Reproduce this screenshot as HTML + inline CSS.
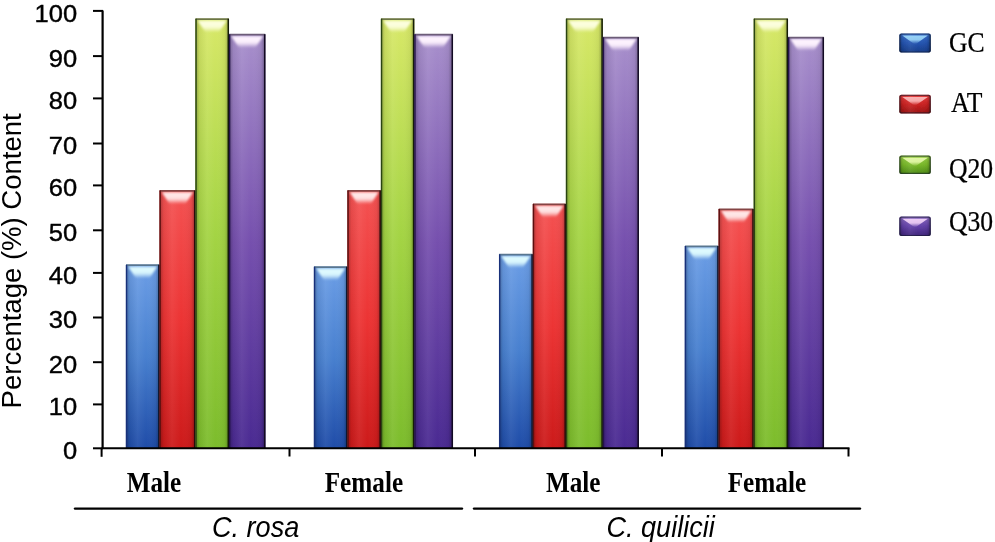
<!DOCTYPE html>
<html><head><meta charset="utf-8"><style>
html,body{margin:0;padding:0;background:#fff;}
body{width:995px;height:542px;overflow:hidden;}
svg{display:block;will-change:transform;filter:blur(0.4px);}
.yl{font-family:"Liberation Sans",sans-serif;font-size:24.3px;fill:#000;stroke:#000;stroke-width:0.4px;}
.yt{font-family:"Liberation Sans",sans-serif;font-size:27.5px;fill:#000;}
.xl{font-family:"Liberation Serif",serif;font-weight:bold;font-size:29.4px;fill:#000;}
.sp{font-family:"Liberation Sans",sans-serif;font-style:italic;font-size:28.8px;fill:#000;}
.lg{font-family:"Liberation Serif",serif;font-size:28.5px;fill:#000;stroke:#000;stroke-width:0.25px;}
</style></head><body>
<svg width="995" height="542" viewBox="0 0 995 542">
<defs>
<linearGradient id="vb" x1="0" y1="0" x2="0" y2="1"><stop offset="0" stop-color="#6c9ee6"/><stop offset="0.5" stop-color="#4880cf"/><stop offset="1" stop-color="#1f4ca8"/></linearGradient>
<linearGradient id="vr" x1="0" y1="0" x2="0" y2="1"><stop offset="0" stop-color="#f45252"/><stop offset="0.5" stop-color="#ec3434"/><stop offset="1" stop-color="#cc1a1a"/></linearGradient>
<linearGradient id="vg" x1="0" y1="0" x2="0" y2="1"><stop offset="0" stop-color="#d8e868"/><stop offset="0.5" stop-color="#a4d444"/><stop offset="1" stop-color="#7cbc2c"/></linearGradient>
<linearGradient id="vp" x1="0" y1="0" x2="0" y2="1"><stop offset="0" stop-color="#a890cc"/><stop offset="0.5" stop-color="#7650ae"/><stop offset="1" stop-color="#4a2a92"/></linearGradient>
<linearGradient id="hs" x1="0" y1="0" x2="1" y2="0">
<stop offset="0" stop-color="#000" stop-opacity="0.30"/>
<stop offset="0.12" stop-color="#000" stop-opacity="0.06"/>
<stop offset="0.35" stop-color="#fff" stop-opacity="0.06"/>
<stop offset="0.6" stop-color="#fff" stop-opacity="0.0"/>
<stop offset="0.88" stop-color="#000" stop-opacity="0.05"/>
<stop offset="1" stop-color="#000" stop-opacity="0.32"/>
</linearGradient>
<linearGradient id="bevb" x1="0" y1="0" x2="0" y2="1"><stop offset="0" stop-color="#e0fcff" stop-opacity="0.85"/><stop offset="0.2" stop-color="#e0fcff" stop-opacity="1"/><stop offset="0.55" stop-color="#e0fcff" stop-opacity="0.92"/><stop offset="0.8" stop-color="#e0fcff" stop-opacity="0.45"/><stop offset="1" stop-color="#e0fcff" stop-opacity="0"/></linearGradient>
<linearGradient id="bevr" x1="0" y1="0" x2="0" y2="1"><stop offset="0" stop-color="#ffeaea" stop-opacity="0.85"/><stop offset="0.2" stop-color="#ffeaea" stop-opacity="1"/><stop offset="0.55" stop-color="#ffeaea" stop-opacity="0.92"/><stop offset="0.8" stop-color="#ffeaea" stop-opacity="0.45"/><stop offset="1" stop-color="#ffeaea" stop-opacity="0"/></linearGradient>
<linearGradient id="bevg" x1="0" y1="0" x2="0" y2="1"><stop offset="0" stop-color="#fdffe0" stop-opacity="0.85"/><stop offset="0.2" stop-color="#fdffe0" stop-opacity="1"/><stop offset="0.55" stop-color="#fdffe0" stop-opacity="0.92"/><stop offset="0.8" stop-color="#fdffe0" stop-opacity="0.45"/><stop offset="1" stop-color="#fdffe0" stop-opacity="0"/></linearGradient>
<linearGradient id="bevp" x1="0" y1="0" x2="0" y2="1"><stop offset="0" stop-color="#fff4ff" stop-opacity="0.85"/><stop offset="0.2" stop-color="#fff4ff" stop-opacity="1"/><stop offset="0.55" stop-color="#fff4ff" stop-opacity="0.92"/><stop offset="0.8" stop-color="#fff4ff" stop-opacity="0.45"/><stop offset="1" stop-color="#fff4ff" stop-opacity="0"/></linearGradient>
<linearGradient id="bev" x1="0" y1="0" x2="0" y2="1">
<stop offset="0" stop-color="#fff" stop-opacity="0.7"/>
<stop offset="0.25" stop-color="#fff" stop-opacity="0.97"/>
<stop offset="0.6" stop-color="#fff" stop-opacity="0.85"/>
<stop offset="0.85" stop-color="#fff" stop-opacity="0.35"/>
<stop offset="1" stop-color="#fff" stop-opacity="0"/>
</linearGradient>
<filter id="bl" x="-20%" y="-50%" width="140%" height="200%"><feGaussianBlur stdDeviation="1.0"/></filter>
<filter id="bl2" x="-20%" y="-20%" width="140%" height="140%"><feGaussianBlur stdDeviation="0.5"/></filter>
<linearGradient id="lb" x1="0" y1="0" x2="0" y2="1"><stop offset="0" stop-color="#3a70cc"/><stop offset="0.5" stop-color="#2454b0"/><stop offset="1" stop-color="#163c88"/></linearGradient>
<linearGradient id="lhb" x1="0" y1="0" x2="0" y2="1"><stop offset="0" stop-color="#a8e4ff" stop-opacity="0.85"/><stop offset="0.5" stop-color="#a8e4ff" stop-opacity="0.8"/><stop offset="1" stop-color="#a8e4ff" stop-opacity="0"/></linearGradient>
<linearGradient id="lr" x1="0" y1="0" x2="0" y2="1"><stop offset="0" stop-color="#e84040"/><stop offset="0.5" stop-color="#cc2222"/><stop offset="1" stop-color="#9a1414"/></linearGradient>
<linearGradient id="lhr" x1="0" y1="0" x2="0" y2="1"><stop offset="0" stop-color="#ffc8c8" stop-opacity="0.85"/><stop offset="0.5" stop-color="#ffc8c8" stop-opacity="0.8"/><stop offset="1" stop-color="#ffc8c8" stop-opacity="0"/></linearGradient>
<linearGradient id="lg" x1="0" y1="0" x2="0" y2="1"><stop offset="0" stop-color="#9ad048"/><stop offset="0.5" stop-color="#78b828"/><stop offset="1" stop-color="#4e8a18"/></linearGradient>
<linearGradient id="lhg" x1="0" y1="0" x2="0" y2="1"><stop offset="0" stop-color="#f0ffb8" stop-opacity="0.85"/><stop offset="0.5" stop-color="#f0ffb8" stop-opacity="0.8"/><stop offset="1" stop-color="#f0ffb8" stop-opacity="0"/></linearGradient>
<linearGradient id="lp" x1="0" y1="0" x2="0" y2="1"><stop offset="0" stop-color="#8a6ac0"/><stop offset="0.5" stop-color="#6240a8"/><stop offset="1" stop-color="#3e2478"/></linearGradient>
<linearGradient id="lhp" x1="0" y1="0" x2="0" y2="1"><stop offset="0" stop-color="#ffe0ff" stop-opacity="0.85"/><stop offset="0.5" stop-color="#ffe0ff" stop-opacity="0.8"/><stop offset="1" stop-color="#ffe0ff" stop-opacity="0"/></linearGradient>
<filter id="bl3" x="-20%" y="-30%" width="140%" height="160%"><feGaussianBlur stdDeviation="0.75"/></filter>
</defs>
<rect width="995" height="542" fill="#fff"/>
<rect x="125.90" y="264.80" width="33.60" height="183.50" fill="url(#vb)"/>
<rect x="125.90" y="264.80" width="33.60" height="183.50" fill="url(#hs)"/>
<path d="M128.10 266.40 L157.30 266.40 L149.50 278.30 L135.90 278.30 Z" fill="url(#bevb)" filter="url(#bl)"/>
<rect x="159.50" y="190.50" width="35.90" height="257.80" fill="url(#vr)"/>
<rect x="159.50" y="190.50" width="35.90" height="257.80" fill="url(#hs)"/>
<path d="M161.70 192.10 L193.20 192.10 L185.40 204.00 L169.50 204.00 Z" fill="url(#bevr)" filter="url(#bl)"/>
<rect x="195.40" y="18.80" width="33.60" height="429.50" fill="url(#vg)"/>
<rect x="195.40" y="18.80" width="33.60" height="429.50" fill="url(#hs)"/>
<path d="M197.60 20.40 L226.80 20.40 L219.00 32.30 L205.40 32.30 Z" fill="url(#bevg)" filter="url(#bl)"/>
<rect x="229.00" y="34.30" width="36.40" height="414.00" fill="url(#vp)"/>
<rect x="229.00" y="34.30" width="36.40" height="414.00" fill="url(#hs)"/>
<path d="M231.20 35.90 L263.20 35.90 L255.40 47.80 L239.00 47.80 Z" fill="url(#bevp)" filter="url(#bl)"/>
<rect x="313.90" y="266.70" width="33.50" height="181.60" fill="url(#vb)"/>
<rect x="313.90" y="266.70" width="33.50" height="181.60" fill="url(#hs)"/>
<path d="M316.10 268.30 L345.20 268.30 L337.40 280.20 L323.90 280.20 Z" fill="url(#bevb)" filter="url(#bl)"/>
<rect x="347.40" y="190.50" width="33.50" height="257.80" fill="url(#vr)"/>
<rect x="347.40" y="190.50" width="33.50" height="257.80" fill="url(#hs)"/>
<path d="M349.60 192.10 L378.70 192.10 L370.90 204.00 L357.40 204.00 Z" fill="url(#bevr)" filter="url(#bl)"/>
<rect x="380.90" y="18.80" width="33.40" height="429.50" fill="url(#vg)"/>
<rect x="380.90" y="18.80" width="33.40" height="429.50" fill="url(#hs)"/>
<path d="M383.10 20.40 L412.10 20.40 L404.30 32.30 L390.90 32.30 Z" fill="url(#bevg)" filter="url(#bl)"/>
<rect x="414.30" y="34.30" width="38.70" height="414.00" fill="url(#vp)"/>
<rect x="414.30" y="34.30" width="38.70" height="414.00" fill="url(#hs)"/>
<path d="M416.50 35.90 L450.80 35.90 L443.00 47.80 L424.30 47.80 Z" fill="url(#bevp)" filter="url(#bl)"/>
<rect x="499.00" y="254.30" width="33.80" height="194.00" fill="url(#vb)"/>
<rect x="499.00" y="254.30" width="33.80" height="194.00" fill="url(#hs)"/>
<path d="M501.20 255.90 L530.60 255.90 L522.80 267.80 L509.00 267.80 Z" fill="url(#bevb)" filter="url(#bl)"/>
<rect x="532.80" y="203.90" width="33.10" height="244.40" fill="url(#vr)"/>
<rect x="532.80" y="203.90" width="33.10" height="244.40" fill="url(#hs)"/>
<path d="M535.00 205.50 L563.70 205.50 L555.90 217.40 L542.80 217.40 Z" fill="url(#bevr)" filter="url(#bl)"/>
<rect x="565.90" y="18.80" width="36.90" height="429.50" fill="url(#vg)"/>
<rect x="565.90" y="18.80" width="36.90" height="429.50" fill="url(#hs)"/>
<path d="M568.10 20.40 L600.60 20.40 L592.80 32.30 L575.90 32.30 Z" fill="url(#bevg)" filter="url(#bl)"/>
<rect x="602.80" y="37.20" width="36.10" height="411.10" fill="url(#vp)"/>
<rect x="602.80" y="37.20" width="36.10" height="411.10" fill="url(#hs)"/>
<path d="M605.00 38.80 L636.70 38.80 L628.90 50.70 L612.80 50.70 Z" fill="url(#bevp)" filter="url(#bl)"/>
<rect x="684.80" y="246.00" width="33.80" height="202.30" fill="url(#vb)"/>
<rect x="684.80" y="246.00" width="33.80" height="202.30" fill="url(#hs)"/>
<path d="M687.00 247.60 L716.40 247.60 L708.60 259.50 L694.80 259.50 Z" fill="url(#bevb)" filter="url(#bl)"/>
<rect x="718.60" y="209.00" width="35.10" height="239.30" fill="url(#vr)"/>
<rect x="718.60" y="209.00" width="35.10" height="239.30" fill="url(#hs)"/>
<path d="M720.80 210.60 L751.50 210.60 L743.70 222.50 L728.60 222.50 Z" fill="url(#bevr)" filter="url(#bl)"/>
<rect x="753.70" y="18.80" width="34.30" height="429.50" fill="url(#vg)"/>
<rect x="753.70" y="18.80" width="34.30" height="429.50" fill="url(#hs)"/>
<path d="M755.90 20.40 L785.80 20.40 L778.00 32.30 L763.70 32.30 Z" fill="url(#bevg)" filter="url(#bl)"/>
<rect x="788.00" y="37.20" width="36.00" height="411.10" fill="url(#vp)"/>
<rect x="788.00" y="37.20" width="36.00" height="411.10" fill="url(#hs)"/>
<path d="M790.20 38.80 L821.80 38.80 L814.00 50.70 L798.00 50.70 Z" fill="url(#bevp)" filter="url(#bl)"/>
<line x1="126.10" y1="265.20" x2="159.30" y2="265.20" stroke="#587690" stroke-width="1.8"/>
<line x1="126.55" y1="264.80" x2="126.55" y2="448.30" stroke="#18307a" stroke-width="1.4"/>
<line x1="158.80" y1="264.80" x2="158.80" y2="448.30" stroke="#0e1830" stroke-width="1.5"/>
<line x1="159.70" y1="190.90" x2="195.20" y2="190.90" stroke="#844444" stroke-width="1.8"/>
<line x1="160.15" y1="190.50" x2="160.15" y2="448.30" stroke="#5a1010" stroke-width="1.4"/>
<line x1="194.70" y1="190.50" x2="194.70" y2="448.30" stroke="#2a0c0c" stroke-width="1.5"/>
<line x1="195.60" y1="19.20" x2="228.80" y2="19.20" stroke="#6c7646" stroke-width="1.8"/>
<line x1="196.05" y1="18.80" x2="196.05" y2="448.30" stroke="#2a4412" stroke-width="1.4"/>
<line x1="228.30" y1="18.80" x2="228.30" y2="448.30" stroke="#141c06" stroke-width="1.5"/>
<line x1="229.20" y1="34.70" x2="265.20" y2="34.70" stroke="#6c5c78" stroke-width="1.8"/>
<line x1="229.65" y1="34.30" x2="229.65" y2="448.30" stroke="#24124a" stroke-width="1.4"/>
<line x1="264.70" y1="34.30" x2="264.70" y2="448.30" stroke="#120a22" stroke-width="1.5"/>
<line x1="314.10" y1="267.10" x2="347.20" y2="267.10" stroke="#587690" stroke-width="1.8"/>
<line x1="314.55" y1="266.70" x2="314.55" y2="448.30" stroke="#18307a" stroke-width="1.4"/>
<line x1="346.70" y1="266.70" x2="346.70" y2="448.30" stroke="#0e1830" stroke-width="1.5"/>
<line x1="347.60" y1="190.90" x2="380.70" y2="190.90" stroke="#844444" stroke-width="1.8"/>
<line x1="348.05" y1="190.50" x2="348.05" y2="448.30" stroke="#5a1010" stroke-width="1.4"/>
<line x1="380.20" y1="190.50" x2="380.20" y2="448.30" stroke="#2a0c0c" stroke-width="1.5"/>
<line x1="381.10" y1="19.20" x2="414.10" y2="19.20" stroke="#6c7646" stroke-width="1.8"/>
<line x1="381.55" y1="18.80" x2="381.55" y2="448.30" stroke="#2a4412" stroke-width="1.4"/>
<line x1="413.60" y1="18.80" x2="413.60" y2="448.30" stroke="#141c06" stroke-width="1.5"/>
<line x1="414.50" y1="34.70" x2="452.80" y2="34.70" stroke="#6c5c78" stroke-width="1.8"/>
<line x1="414.95" y1="34.30" x2="414.95" y2="448.30" stroke="#24124a" stroke-width="1.4"/>
<line x1="452.30" y1="34.30" x2="452.30" y2="448.30" stroke="#120a22" stroke-width="1.5"/>
<line x1="499.20" y1="254.70" x2="532.60" y2="254.70" stroke="#587690" stroke-width="1.8"/>
<line x1="499.65" y1="254.30" x2="499.65" y2="448.30" stroke="#18307a" stroke-width="1.4"/>
<line x1="532.10" y1="254.30" x2="532.10" y2="448.30" stroke="#0e1830" stroke-width="1.5"/>
<line x1="533.00" y1="204.30" x2="565.70" y2="204.30" stroke="#844444" stroke-width="1.8"/>
<line x1="533.45" y1="203.90" x2="533.45" y2="448.30" stroke="#5a1010" stroke-width="1.4"/>
<line x1="565.20" y1="203.90" x2="565.20" y2="448.30" stroke="#2a0c0c" stroke-width="1.5"/>
<line x1="566.10" y1="19.20" x2="602.60" y2="19.20" stroke="#6c7646" stroke-width="1.8"/>
<line x1="566.55" y1="18.80" x2="566.55" y2="448.30" stroke="#2a4412" stroke-width="1.4"/>
<line x1="602.10" y1="18.80" x2="602.10" y2="448.30" stroke="#141c06" stroke-width="1.5"/>
<line x1="603.00" y1="37.60" x2="638.70" y2="37.60" stroke="#6c5c78" stroke-width="1.8"/>
<line x1="603.45" y1="37.20" x2="603.45" y2="448.30" stroke="#24124a" stroke-width="1.4"/>
<line x1="638.20" y1="37.20" x2="638.20" y2="448.30" stroke="#120a22" stroke-width="1.5"/>
<line x1="685.00" y1="246.40" x2="718.40" y2="246.40" stroke="#587690" stroke-width="1.8"/>
<line x1="685.45" y1="246.00" x2="685.45" y2="448.30" stroke="#18307a" stroke-width="1.4"/>
<line x1="717.90" y1="246.00" x2="717.90" y2="448.30" stroke="#0e1830" stroke-width="1.5"/>
<line x1="718.80" y1="209.40" x2="753.50" y2="209.40" stroke="#844444" stroke-width="1.8"/>
<line x1="719.25" y1="209.00" x2="719.25" y2="448.30" stroke="#5a1010" stroke-width="1.4"/>
<line x1="753.00" y1="209.00" x2="753.00" y2="448.30" stroke="#2a0c0c" stroke-width="1.5"/>
<line x1="753.90" y1="19.20" x2="787.80" y2="19.20" stroke="#6c7646" stroke-width="1.8"/>
<line x1="754.35" y1="18.80" x2="754.35" y2="448.30" stroke="#2a4412" stroke-width="1.4"/>
<line x1="787.30" y1="18.80" x2="787.30" y2="448.30" stroke="#141c06" stroke-width="1.5"/>
<line x1="788.20" y1="37.60" x2="823.80" y2="37.60" stroke="#6c5c78" stroke-width="1.8"/>
<line x1="788.65" y1="37.20" x2="788.65" y2="448.30" stroke="#24124a" stroke-width="1.4"/>
<line x1="823.30" y1="37.20" x2="823.30" y2="448.30" stroke="#120a22" stroke-width="1.5"/>
<line x1="102.6" y1="10.50" x2="102.6" y2="449" stroke="#000" stroke-width="2.2"/>
<line x1="101.6" y1="448" x2="101.6" y2="456.8" stroke="#000" stroke-width="2"/>
<line x1="93" y1="448.30" x2="103" y2="448.30" stroke="#000" stroke-width="2"/>
<text x="77.2" y="459.30" text-anchor="end" class="yl" transform="translate(77.2 0) scale(1.05 1) translate(-77.2 0)">0</text>
<line x1="93" y1="404.40" x2="103" y2="404.40" stroke="#000" stroke-width="2"/>
<text x="77.2" y="415.40" text-anchor="end" class="yl" transform="translate(77.2 0) scale(1.05 1) translate(-77.2 0)">10</text>
<line x1="93" y1="362.20" x2="103" y2="362.20" stroke="#000" stroke-width="2"/>
<text x="77.2" y="373.20" text-anchor="end" class="yl" transform="translate(77.2 0) scale(1.05 1) translate(-77.2 0)">20</text>
<line x1="93" y1="317.50" x2="103" y2="317.50" stroke="#000" stroke-width="2"/>
<text x="77.2" y="328.50" text-anchor="end" class="yl" transform="translate(77.2 0) scale(1.05 1) translate(-77.2 0)">30</text>
<line x1="93" y1="272.90" x2="103" y2="272.90" stroke="#000" stroke-width="2"/>
<text x="77.2" y="283.90" text-anchor="end" class="yl" transform="translate(77.2 0) scale(1.05 1) translate(-77.2 0)">40</text>
<line x1="93" y1="230.30" x2="103" y2="230.30" stroke="#000" stroke-width="2"/>
<text x="77.2" y="241.30" text-anchor="end" class="yl" transform="translate(77.2 0) scale(1.05 1) translate(-77.2 0)">50</text>
<line x1="93" y1="185.40" x2="103" y2="185.40" stroke="#000" stroke-width="2"/>
<text x="77.2" y="196.40" text-anchor="end" class="yl" transform="translate(77.2 0) scale(1.05 1) translate(-77.2 0)">60</text>
<line x1="93" y1="143.50" x2="103" y2="143.50" stroke="#000" stroke-width="2"/>
<text x="77.2" y="154.50" text-anchor="end" class="yl" transform="translate(77.2 0) scale(1.05 1) translate(-77.2 0)">70</text>
<line x1="93" y1="98.40" x2="103" y2="98.40" stroke="#000" stroke-width="2"/>
<text x="77.2" y="109.40" text-anchor="end" class="yl" transform="translate(77.2 0) scale(1.05 1) translate(-77.2 0)">80</text>
<line x1="93" y1="56.10" x2="103" y2="56.10" stroke="#000" stroke-width="2"/>
<text x="77.2" y="67.10" text-anchor="end" class="yl" transform="translate(77.2 0) scale(1.05 1) translate(-77.2 0)">90</text>
<line x1="93" y1="10.90" x2="103" y2="10.90" stroke="#000" stroke-width="2"/>
<text x="77.2" y="21.90" text-anchor="end" class="yl" transform="translate(77.2 0) scale(1.05 1) translate(-77.2 0)">100</text>
<line x1="101.6" y1="448.30" x2="849.5" y2="448.30" stroke="#000" stroke-width="2"/>
<line x1="289.5" y1="448.30" x2="289.5" y2="456.5" stroke="#000" stroke-width="2"/>
<line x1="475" y1="448.30" x2="475" y2="456.5" stroke="#000" stroke-width="2"/>
<line x1="662" y1="448.30" x2="662" y2="456.5" stroke="#000" stroke-width="2"/>
<line x1="848.5" y1="448.30" x2="848.5" y2="456.5" stroke="#000" stroke-width="2"/>
<text x="154.0" y="491.6" text-anchor="middle" class="xl" transform="translate(154.0 0) scale(0.858 1) translate(-154.0 0)">Male</text>
<text x="363.9" y="491.6" text-anchor="middle" class="xl" transform="translate(363.9 0) scale(0.858 1) translate(-363.9 0)">Female</text>
<text x="573.2" y="491.6" text-anchor="middle" class="xl" transform="translate(573.2 0) scale(0.858 1) translate(-573.2 0)">Male</text>
<text x="766.9" y="491.6" text-anchor="middle" class="xl" transform="translate(766.9 0) scale(0.858 1) translate(-766.9 0)">Female</text>
<line x1="75" y1="508.6" x2="462" y2="508.6" stroke="#000" stroke-width="2.4" stroke-linecap="round"/>
<line x1="474" y1="508.6" x2="860" y2="508.6" stroke="#000" stroke-width="2.4" stroke-linecap="round"/>
<text x="212" y="536.6" class="sp" transform="translate(212 0) scale(0.94 1) translate(-212 0)">C. rosa</text>
<text x="606.5" y="536.6" class="sp" transform="translate(606.5 0) scale(0.94 1) translate(-606.5 0)">C. quilicii</text>
<text x="0" y="0" class="yt" text-anchor="middle" transform="translate(20.7 260.9) rotate(-90)">Percentage (%) Content</text>
<g filter="url(#bl3)">
<rect x="899.3" y="33.4" width="31.50" height="19.20" rx="2" fill="url(#lb)"/>
<rect x="899.3" y="33.4" width="31.50" height="19.20" rx="2" fill="url(#hs)"/>
<path d="M902.30 35.60 L927.80 35.60 L916.05 43.90 L914.05 43.90 Z" fill="url(#lhb)"/>
<rect x="899.9" y="34.0" width="30.30" height="18.00" rx="2" fill="none" stroke="#101828" stroke-width="1.2" stroke-opacity="0.55"/>
</g>
<text x="949.0" y="51.8" class="lg" transform="translate(949.0 0) scale(0.9 1) translate(-949.0 0)">GC</text>
<g filter="url(#bl3)">
<rect x="899.3" y="94.7" width="31.50" height="18.80" rx="2" fill="url(#lr)"/>
<rect x="899.3" y="94.7" width="31.50" height="18.80" rx="2" fill="url(#hs)"/>
<path d="M902.30 96.90 L927.80 96.90 L916.05 105.20 L914.05 105.20 Z" fill="url(#lhr)"/>
<rect x="899.9" y="95.3" width="30.30" height="17.60" rx="2" fill="none" stroke="#101828" stroke-width="1.2" stroke-opacity="0.55"/>
</g>
<text x="951.0" y="111.9" class="lg" transform="translate(951.0 0) scale(0.9 1) translate(-951.0 0)">AT</text>
<g filter="url(#bl3)">
<rect x="899.3" y="155.6" width="31.50" height="18.40" rx="2" fill="url(#lg)"/>
<rect x="899.3" y="155.6" width="31.50" height="18.40" rx="2" fill="url(#hs)"/>
<path d="M902.30 157.80 L927.80 157.80 L916.05 166.10 L914.05 166.10 Z" fill="url(#lhg)"/>
<rect x="899.9" y="156.2" width="30.30" height="17.20" rx="2" fill="none" stroke="#101828" stroke-width="1.2" stroke-opacity="0.55"/>
</g>
<text x="949.0" y="177.6" class="lg" transform="translate(949.0 0) scale(0.9 1) translate(-949.0 0)">Q20</text>
<g filter="url(#bl3)">
<rect x="899.3" y="216.6" width="31.50" height="19.50" rx="2" fill="url(#lp)"/>
<rect x="899.3" y="216.6" width="31.50" height="19.50" rx="2" fill="url(#hs)"/>
<path d="M902.30 218.80 L927.80 218.80 L916.05 227.10 L914.05 227.10 Z" fill="url(#lhp)"/>
<rect x="899.9" y="217.2" width="30.30" height="18.30" rx="2" fill="none" stroke="#101828" stroke-width="1.2" stroke-opacity="0.55"/>
</g>
<text x="949.0" y="230.7" class="lg" transform="translate(949.0 0) scale(0.9 1) translate(-949.0 0)">Q30</text>
</svg>
</body></html>
